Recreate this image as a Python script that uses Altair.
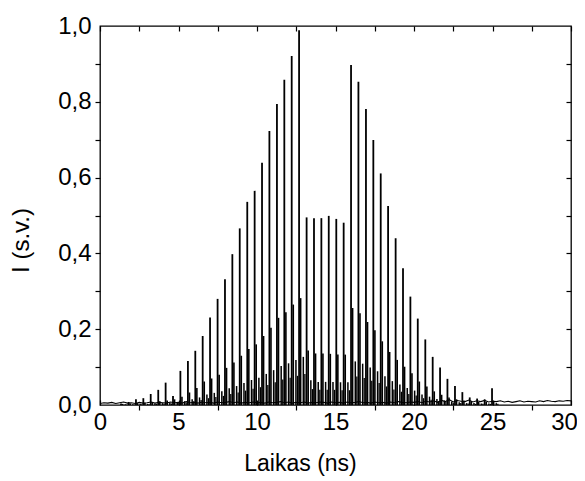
import altair as alt
import pandas as pd
import numpy as np

# main pulse train (time in ns, intensity in a.u.)
pulse_t = [1.34, 1.82, 2.29, 2.76, 3.23, 3.71, 4.18, 4.65, 5.12, 5.60,
           6.07, 6.54, 7.01, 7.49, 7.96, 8.43, 8.90, 9.38, 9.85, 10.32,
           10.79, 11.27, 11.74, 12.21, 12.68, 13.16, 13.63, 14.10, 14.57, 15.05,
           15.52, 15.99, 16.46, 16.94, 17.41, 17.88, 18.35, 18.83, 19.30, 19.77,
           20.24, 20.72, 21.19, 21.66, 22.13, 22.61, 23.08, 23.55, 24.02, 24.50, 24.97]
pulse_h = [0.004, 0.008, 0.015, 0.018, 0.029, 0.040, 0.059, 0.024, 0.090, 0.116,
           0.143, 0.182, 0.231, 0.280, 0.332, 0.398, 0.466, 0.536, 0.565, 0.639,
           0.723, 0.794, 0.858, 0.921, 0.989, 0.495, 0.493, 0.493, 0.499, 0.491,
           0.481, 0.897, 0.853, 0.781, 0.699, 0.611, 0.525, 0.440, 0.361, 0.286,
           0.228, 0.173, 0.127, 0.099, 0.069, 0.050, 0.034, 0.020, 0.017, 0.015, 0.044]

# secondary pulses
sec_t = [1.44, 1.92, 2.39, 2.86, 3.33, 3.81, 4.28, 4.75, 5.22, 5.70,
         6.17, 6.64, 7.11, 7.59, 8.06, 8.53, 9.00, 9.48, 9.95, 10.42,
         10.89, 11.37, 11.84, 12.31, 12.78, 13.26, 13.73, 14.20, 14.67, 15.15,
         15.62, 16.09, 16.56, 17.04, 17.51, 17.98, 18.45, 18.93, 19.40, 19.87,
         20.34, 20.82, 21.29, 21.76, 22.23, 22.71, 23.18, 23.65, 24.12, 24.60, 25.07]
sec_h = [0.003, 0.004, 0.005, 0.006, 0.008, 0.010, 0.012, 0.015, 0.022, 0.033,
         0.045, 0.062, 0.070, 0.080, 0.098, 0.112, 0.130, 0.148, 0.160, 0.182,
         0.204, 0.230, 0.245, 0.265, 0.282, 0.144, 0.136, 0.136, 0.135, 0.133,
         0.133, 0.256, 0.242, 0.219, 0.197, 0.168, 0.140, 0.119, 0.101, 0.084,
         0.062, 0.049, 0.036, 0.027, 0.020, 0.015, 0.012, 0.010, 0.008, 0.008, 0.010]

# tertiary pulses
ter_t = [1.61, 2.09, 2.56, 3.03, 3.50, 3.98, 4.45, 4.92, 5.39, 5.87,
         6.34, 6.81, 7.28, 7.76, 8.23, 8.70, 9.17, 9.65, 10.12, 10.59,
         11.06, 11.54, 12.01, 12.48, 12.95, 13.43, 13.90, 14.37, 14.84, 15.32,
         15.79, 16.26, 16.73, 17.21, 17.68, 18.15, 18.62, 19.10, 19.57, 20.04,
         20.51, 20.99, 21.46, 21.93, 22.40, 22.88, 23.35, 23.82, 24.29, 24.77, 25.24]
ter_h = [0.002, 0.002, 0.003, 0.003, 0.004, 0.005, 0.006, 0.008, 0.010, 0.015,
         0.020, 0.028, 0.032, 0.036, 0.044, 0.050, 0.058, 0.066, 0.072, 0.082,
         0.092, 0.103, 0.110, 0.119, 0.127, 0.065, 0.061, 0.061, 0.061, 0.060,
         0.060, 0.115, 0.109, 0.099, 0.089, 0.076, 0.063, 0.054, 0.045, 0.038,
         0.028, 0.022, 0.016, 0.012, 0.009, 0.007, 0.005, 0.005, 0.004, 0.004, 0.005]

# small fourth echo pulses
quat_t = [1.71, 2.19, 2.66, 3.13, 3.60, 4.08, 4.55, 5.02, 5.49, 5.97,
          6.44, 6.91, 7.38, 7.86, 8.33, 8.80, 9.27, 9.75, 10.22, 10.69,
          11.16, 11.64, 12.11, 12.58, 13.05, 13.53, 14.00, 14.47, 14.94, 15.42,
          15.89, 16.36, 16.83, 17.31, 17.78, 18.25, 18.72, 19.20, 19.67, 20.14,
          20.61, 21.09, 21.56, 22.03, 22.50, 22.98, 23.45, 23.92, 24.39, 24.87, 25.34]
quat_h = [0.001, 0.001, 0.002, 0.002, 0.003, 0.003, 0.004, 0.005, 0.007, 0.010,
          0.013, 0.018, 0.021, 0.024, 0.029, 0.033, 0.038, 0.043, 0.047, 0.053,
          0.060, 0.067, 0.072, 0.077, 0.082, 0.042, 0.040, 0.040, 0.040, 0.039,
          0.039, 0.075, 0.071, 0.064, 0.058, 0.049, 0.041, 0.035, 0.029, 0.025,
          0.018, 0.014, 0.010, 0.008, 0.006, 0.005, 0.004, 0.003, 0.003, 0.003, 0.003]

# baseline noise, sampled every 0.25 ns from 0 to 30
noise_t = list(np.round(np.arange(0, 30.001, 0.25), 2))
noise_v = [0.004, 0.006, 0.005, 0.007, 0.004, 0.006, 0.008, 0.005, 0.006, 0.004,
           0.007, 0.005, 0.006, 0.008, 0.005, 0.007, 0.006, 0.005, 0.008, 0.006,
           0.007, 0.005, 0.009, 0.006, 0.007, 0.005, 0.008, 0.006, 0.007, 0.005,
           0.008, 0.006, 0.007, 0.009, 0.006, 0.008, 0.005, 0.007, 0.006, 0.008,
           0.006, 0.007, 0.005, 0.008, 0.006, 0.007, 0.009, 0.006, 0.008, 0.005,
           0.007, 0.006, 0.008, 0.005, 0.007, 0.006, 0.008, 0.007, 0.005, 0.008,
           0.006, 0.007, 0.005, 0.008, 0.006, 0.007, 0.009, 0.006, 0.007, 0.005,
           0.008, 0.006, 0.007, 0.005, 0.008, 0.006, 0.009, 0.007, 0.006, 0.008,
           0.007, 0.009, 0.006, 0.010, 0.008, 0.011, 0.007, 0.012, 0.009, 0.014,
           0.008, 0.012, 0.010, 0.009, 0.013, 0.008, 0.011, 0.009, 0.012, 0.008,
           0.010, 0.009, 0.011, 0.008, 0.010, 0.007, 0.009, 0.011, 0.008, 0.010,
           0.009, 0.008, 0.011, 0.009, 0.012, 0.010, 0.009, 0.011, 0.010, 0.012,
           0.011]

x_major = [0, 5, 10, 15, 20, 25, 30]
x_minor = [2.5, 7.5, 12.5, 17.5, 22.5, 27.5]
x_all = [0, 2.5, 5, 7.5, 10, 12.5, 15, 17.5, 20, 22.5, 25, 27.5, 30]
y_major = [0.0, 0.2, 0.4, 0.6, 0.8, 1.0]
y_all = [0.1, 0.2, 0.3, 0.4, 0.5, 0.6, 0.7, 0.8, 0.9]

noise_df = pd.DataFrame({"t": noise_t, "v": noise_v})
pulse_df = pd.DataFrame({"t": pulse_t, "h": pulse_h})
sec_df = pd.DataFrame({"t": sec_t, "h": sec_h})
ter_df = pd.DataFrame({"t": ter_t, "h": ter_h})
quat_df = pd.DataFrame({"t": quat_t, "h": quat_h})

FONT = "Liberation Sans"
xs = alt.Scale(domain=[0, 30], nice=False, zero=False)
ys = alt.Scale(domain=[0, 1], nice=False)

ax_bottom_labels = alt.Axis(values=x_major, ticks=False, domain=False, grid=False,
                            labelFontSize=24, labelFont=FONT, labelColor="black",
                            labelPadding=5, format="d", labelFlush=False,
                            labelOffset={"condition": {"test": "datum.value == 30", "value": -7},
                                         "value": 0},
                            title="Laikas (ns)", titleFont=FONT, titleFontSize=23,
                            titleFontWeight="normal", titleColor="black",
                            titleX=200, titleY=58, titleAlign="center",
                            titleBaseline="middle", orient="bottom")
ax_left_labels = alt.Axis(values=y_major, ticks=False, domain=False, grid=False,
                          labelFontSize=24, labelFont=FONT, labelColor="black",
                          labelPadding=9, labelFlush=False,
                          labelExpr="replace(format(datum.value, '.1f'), '.', ',')",
                          title="I (s.v.)", titleFont=FONT, titleFontSize=24,
                          titleFontWeight="normal", titleColor="black",
                          titleX=-79, titleY=214, titleAngle=-90,
                          titleAlign="center", titleBaseline="middle", orient="left")
ax_bottom_minor = alt.Axis(values=x_minor, labels=False, domain=False, grid=False,
                           tickSize=5, tickColor="black", tickWidth=1.2,
                           title=None, orient="bottom")
ax_left_ticks = alt.Axis(values=y_all, labels=False, domain=False, grid=False,
                         tickSize=5, tickColor="black", tickWidth=1.2,
                         title=None, orient="left")
ax_bottom_in = alt.Axis(values=x_major, labels=False, domain=False, grid=False,
                        tickSize=5, tickColor="black", tickWidth=1.2, offset=-5,
                        title=None, orient="bottom")
ax_right_in = alt.Axis(values=y_all, labels=False, domain=False, grid=False,
                       tickSize=5, tickColor="black", tickWidth=1.2, offset=-5,
                       title=None, orient="right")
ax_top_in = alt.Axis(values=x_all, labels=False, domain=False, grid=False,
                     tickSize=5, tickColor="black", tickWidth=1.2, offset=-5,
                     title=None, orient="top")

noise_layer = alt.Chart(noise_df).mark_line(color="black", strokeWidth=1.1).encode(
    x=alt.X("t:Q", scale=xs, axis=ax_bottom_labels),
    y=alt.Y("v:Q", scale=ys, axis=ax_left_labels),
)
quat_layer = alt.Chart(quat_df).mark_rule(color="black", strokeWidth=1.3).encode(
    x=alt.X("t:Q", scale=xs, axis=None),
    y=alt.Y("h:Q", scale=ys, axis=None),
    y2=alt.datum(0),
)
ter_layer = alt.Chart(ter_df).mark_rule(color="black", strokeWidth=1.5).encode(
    x=alt.X("t:Q", scale=xs, axis=ax_top_in),
    y=alt.Y("h:Q", scale=ys, axis=None),
    y2=alt.datum(0),
)
sec_layer = alt.Chart(sec_df).mark_rule(color="black", strokeWidth=1.6).encode(
    x=alt.X("t:Q", scale=xs, axis=ax_bottom_in),
    y=alt.Y("h:Q", scale=ys, axis=ax_right_in),
    y2=alt.datum(0),
)
pulse_layer = alt.Chart(pulse_df).mark_rule(color="black", strokeWidth=1.8).encode(
    x=alt.X("t:Q", scale=xs, axis=ax_bottom_minor),
    y=alt.Y("h:Q", scale=ys, axis=ax_left_ticks),
    y2=alt.datum(0),
)

chart = alt.layer(noise_layer, quat_layer, ter_layer, sec_layer, pulse_layer).resolve_scale(
    x="independent", y="independent"
).properties(
    width=471, height=379,
    autosize=alt.AutoSizeParams(type="none"),
    padding={"left": 92, "top": 18, "right": 6, "bottom": 76},
    background="white",
).configure_view(stroke="black", strokeWidth=1.3)

chart.save("out.html", embed_options={"renderer": "svg", "actions": False})
